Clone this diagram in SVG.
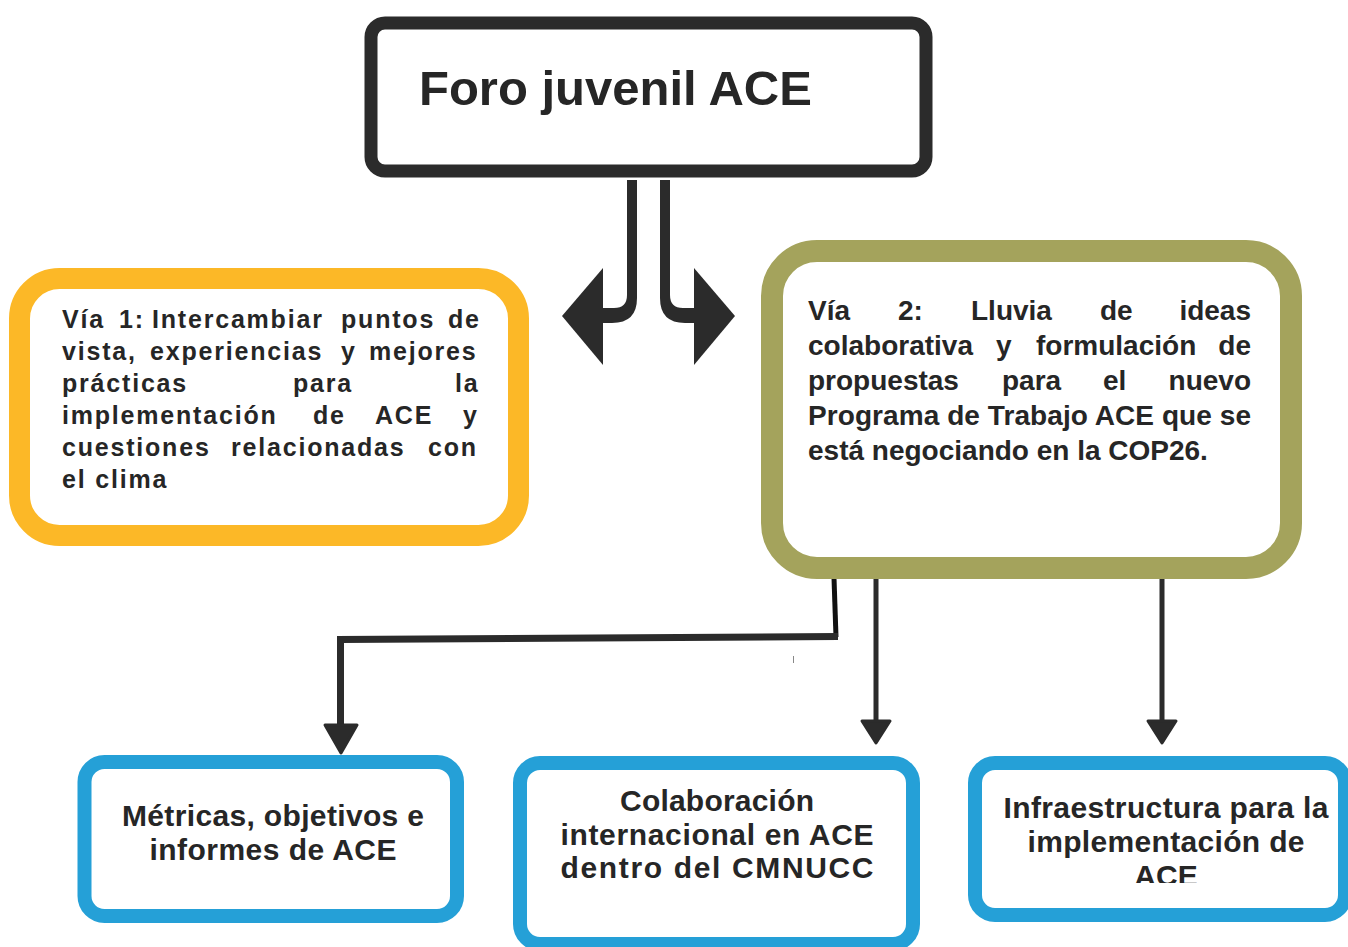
<svg xmlns="http://www.w3.org/2000/svg" width="1348" height="947" viewBox="0 0 1348 947">
<style>
text{font-family:"Liberation Sans",Arial,Helvetica,sans-serif;font-weight:bold;fill:#262626}
.box{fill:#ffffff}
.top{stroke:#2b2b2b;stroke-width:13}
.yel{stroke:#fcb827;stroke-width:21}
.grn{stroke:#a4a35c;stroke-width:22}
.blu{stroke:#25a0d7;stroke-width:14}
.t1{font-size:25px;letter-spacing:1.8px}
.t2{font-size:28px}
.t3{font-size:30px;text-anchor:middle}
.ln{fill:none;stroke:#2b2b2b;stroke-linejoin:miter}
.ah{fill:#2b2b2b;stroke:#2b2b2b;stroke-width:3;stroke-linejoin:round}
</style>
<defs>
<clipPath id="clip3"><rect x="960" y="770" width="388" height="113"/></clipPath>
</defs>
<rect width="1348" height="947" fill="#ffffff"/>

<g id="connectors">
<path d="M627,180 H637 V298 Q637,323 612,323 H603 V308 H614 Q627,308 627,295 Z" fill="#2b2b2b"/>
<polygon points="603,268 562,316 603,365" fill="#2b2b2b"/>
<path d="M660,180 H670 V295 Q670,308 683,308 H694 V323 H685 Q660,323 660,298 Z" fill="#2b2b2b"/>
<polygon points="694,268 735,316 694,365" fill="#2b2b2b"/>

<path d="M834,578 L836,637" fill="none" stroke="#111111" stroke-width="5"/>
<path class="ln" d="M838,636.5 L340.5,639.5 L340.5,726" stroke-width="7"/>
<path class="ah" d="M325,725 L357,725 L341,753 Z"/>
<line x1="876" y1="578" x2="876" y2="722" stroke="#2b2b2b" stroke-width="5"/>
<path class="ah" d="M862,721 L890,721 L876,743 Z"/>
<line x1="1162" y1="578" x2="1162" y2="722" stroke="#2b2b2b" stroke-width="5"/>
<path class="ah" d="M1148,721 L1176,721 L1162,743 Z"/>
<line x1="793.5" y1="656" x2="793.5" y2="663" stroke="#888888" stroke-width="1"/>
</g>

<g id="foro">
<rect class="box top" x="371" y="23" width="555" height="148" rx="14"/>
<text x="419" y="105" style="font-size:49px">Foro juvenil ACE</text>
</g>

<g id="via1">
<rect class="box yel" x="19.5" y="278.5" width="499" height="257" rx="40"/>
<text class="t1" y="328"><tspan x="62">Vía</tspan><tspan x="119">1:</tspan><tspan x="152">Intercambiar</tspan><tspan x="341">puntos</tspan><tspan x="448">de</tspan></text>
<text class="t1" y="360"><tspan x="62">vista,</tspan><tspan x="150">experiencias</tspan><tspan x="341">y</tspan><tspan x="369">mejores</tspan></text>
<text class="t1" y="392"><tspan x="62">prácticas</tspan><tspan x="293">para</tspan><tspan x="455">la</tspan></text>
<text class="t1" y="424"><tspan x="62">implementación</tspan><tspan x="313">de</tspan><tspan x="375">ACE</tspan><tspan x="463">y</tspan></text>
<text class="t1" y="456"><tspan x="62">cuestiones</tspan><tspan x="231">relacionadas</tspan><tspan x="428">con</tspan></text>
<text class="t1" y="488" x="62">el clima</text>
</g>

<g id="via2">
<rect class="box grn" x="772" y="251" width="519" height="317" rx="45"/>
<text class="t2" y="320"><tspan x="808">Vía</tspan><tspan x="898">2:</tspan><tspan x="971">Lluvia</tspan><tspan x="1100">de</tspan></text>
<text class="t2" y="320" x="1251" text-anchor="end">ideas</text>
<text class="t2" y="355"><tspan x="808">colaborativa</tspan><tspan x="996">y</tspan><tspan x="1036">formulación</tspan></text>
<text class="t2" y="355" x="1251" text-anchor="end">de</text>
<text class="t2" y="390"><tspan x="808">propuestas</tspan><tspan x="1002">para</tspan><tspan x="1103">el</tspan></text>
<text class="t2" y="390" x="1251" text-anchor="end">nuevo</text>
<text class="t2" y="425" x="808" textLength="443" lengthAdjust="spacing">Programa de Trabajo ACE que se</text>
<text class="t2" y="460" x="808">está negociando en la COP26.</text>
</g>

<g id="metricas">
<rect class="box blu" x="84.5" y="762" width="372.5" height="154" rx="20"/>
<text class="t3" x="273" y="826" textLength="302" lengthAdjust="spacing">Métricas, objetivos e</text>
<text class="t3" x="273" y="860" textLength="247" lengthAdjust="spacing">informes de ACE</text>
</g>

<g id="colaboracion">
<rect class="box blu" x="520" y="763" width="393" height="181" rx="20"/>
<text class="t3" x="717" y="811" textLength="194" lengthAdjust="spacing">Colaboración</text>
<text class="t3" x="717" y="845" textLength="313" lengthAdjust="spacing">internacional en ACE</text>
<text class="t3" x="717" y="878" textLength="313" lengthAdjust="spacing">dentro del CMNUCC</text>
</g>

<g id="infraestructura">
<rect class="box blu" x="975" y="763" width="370" height="152" rx="20"/>
<g clip-path="url(#clip3)">
<text class="t3" x="1166" y="818" textLength="325" lengthAdjust="spacing">Infraestructura para la</text>
<text class="t3" x="1166" y="852" textLength="277" lengthAdjust="spacing">implementación de</text>
<text class="t3" x="1166" y="886">ACE</text>
</g>
</g>
</svg>
